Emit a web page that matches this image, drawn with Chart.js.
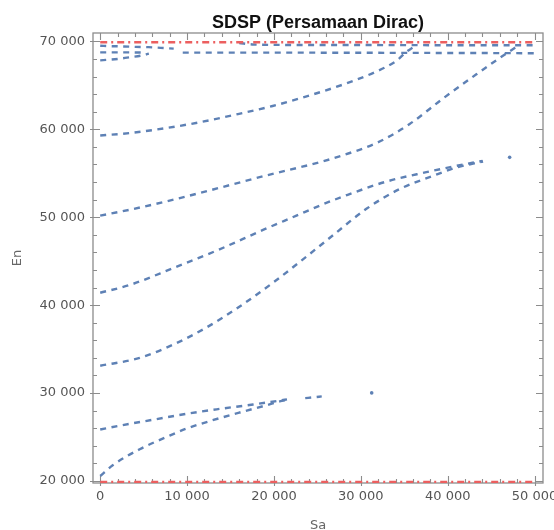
<!DOCTYPE html>
<html>
<head>
<meta charset="utf-8">
<title>SDSP (Persamaan Dirac)</title>
<script src="https://cdn.jsdelivr.net/npm/chart.js@4.4.1/dist/chart.umd.min.js"></script>
<style>
  html, body { margin: 0; padding: 0; background: #fff; overflow: hidden; }
  #wrap { position: absolute; left: 0; top: 0; }
</style>
</head>
<body>
<div id="wrap"><canvas id="levels" width="554" height="545"></canvas></div>
<script>
'use strict';

// plot range and labelled ticks
var xMin = -830, xMax = 50970;
var yMin = 19770, yMax = 70950;
var xTickValues = [0, 10000, 20000, 30000, 40000, 50000];
var yTickValues = [20000, 30000, 40000, 50000, 60000, 70000];

// energy levels En as a function of Sa
var level1Sa = [0, 1440, 4550, 7650, 9960, 12950, 16060, 19160, 20660, 21500];
var level1En = [20570, 21790, 23610, 25010, 25970, 26910, 27790, 28620, 29050, 29220];

var level2Sa = [0, 2000, 6000, 10000, 13400, 17600, 20700, 21500];
var level2En = [25850, 26250, 26950, 27650, 28150, 28700, 29150, 29280];

var level12TailSa = [23600, 24600, 25500];
var level12TailEn = [29420, 29520, 29620];

var level3Sa = [0, 4550, 8380, 12220, 16060, 19890, 23080, 26800, 30640, 34470, 38310, 41000, 44070];
var level3En = [33100, 34000, 35500, 37450, 39850, 42550, 45000, 47950, 50950, 53200, 54700, 55650, 56330];

var level4Sa = [0, 3400, 8350, 13560, 18740, 22590, 25270, 27950, 32940, 37540, 40610, 44020];
var level4En = [41410, 42290, 44190, 46270, 48550, 50180, 51320, 52350, 54050, 55120, 55760, 56410];

var level5Sa = [0, 3400, 7620, 11450, 15290, 19130, 25240, 27950, 31940, 35620, 39460, 43300, 45600, 47130, 48000];
var level5En = [50180, 50850, 51800, 52750, 53750, 54750, 56250, 57050, 58500, 60600, 63500, 66250, 67850, 68860, 69450];

var level6Sa = [0, 3400, 7620, 11450, 15270, 19850, 24110, 27910, 31820, 34120, 35270, 35970];
var level6En = [59290, 59570, 60140, 60800, 61600, 62650, 63850, 65070, 66580, 67800, 68830, 69280];

// bands just under the upper limit
var upperLeftSa = [0, 1320, 2700, 4090, 5580, 6960, 8460];
var upperLeftEn = [69500, 69450, 69420, 69370, 69340, 69260, 69170];
var upperRightSa = [16000, 17500, 20000, 30000, 40000, 50000];
var upperRightEn = [69820, 69650, 69600, 69580, 69560, 69550];

var middleLeftSa = [0, 2500, 5000];
var middleLeftEn = [68750, 68750, 68720];
var middleRightSa = [9500, 20000, 30000, 40000, 50000];
var middleRightEn = [68720, 68720, 68700, 68680, 68650];

var lowerSa = [0, 2000, 3300, 4700, 5600];
var lowerEn = [67840, 68000, 68180, 68370, 68600];

// isolated roots
var dotSa = [31250, 47130];
var dotEn = [30020, 56810];

// limits
var limitSa = [0, 50000];
var limitTopEn = [69900, 69900];
var limitBottomEn = [19900, 19900];

var blue = '#5E81B5';
var red = '#EC5F5F';

function pairs(xs, ys) {
    return xs.map(function (x, i) { return { x: x, y: ys[i] }; });
}

function dashed(xs, ys) {
    return {
        type: 'line',
        data: pairs(xs, ys),
        borderColor: blue,
        borderWidth: 2.4,
        borderDash: [6, 5.5],
        pointRadius: 0,
        cubicInterpolationMode: 'monotone',
        fill: false
    };
}

function limit(xs, ys) {
    return {
        type: 'line',
        data: pairs(xs, ys),
        borderColor: red,
        borderWidth: 2.4,
        borderDash: [7, 4, 2, 4],
        pointRadius: 0,
        fill: false
    };
}

function spaced(v) {
    return String(v).replace(/\B(?=(\d{3})+(?!\d))/g, ' ');
}

function fixedTicks(values) {
    return function (scale) {
        scale.ticks = values.map(function (v) { return { value: v }; });
    };
}

var datasets = [
    limit(limitSa, limitTopEn),
    limit(limitSa, limitBottomEn),
    dashed(level1Sa, level1En),
    dashed(level2Sa, level2En),
    dashed(level12TailSa, level12TailEn),
    dashed(level3Sa, level3En),
    dashed(level4Sa, level4En),
    dashed(level5Sa, level5En),
    dashed(level6Sa, level6En),
    dashed(upperLeftSa, upperLeftEn),
    dashed(upperRightSa, upperRightEn),
    dashed(middleLeftSa, middleLeftEn),
    dashed(middleRightSa, middleRightEn),
    dashed(lowerSa, lowerEn),
    {
        type: 'scatter',
        data: pairs(dotSa, dotEn),
        pointRadius: 1.8,
        pointBackgroundColor: blue,
        pointBorderWidth: 0
    }
];

// Mathematica style frame: inward ticks on all four sides, title over the plot
var frameTicks = {
    id: 'frameTicks',
    beforeDatasetsDraw: function (chart) {
        var ctx = chart.ctx, a = chart.chartArea;
        var xs = chart.scales.x, ys = chart.scales.y;
        var v, p, major, len;
        ctx.save();
        ctx.strokeStyle = '#8c8c8c';
        ctx.lineWidth = 1.3;
        ctx.strokeRect(a.left, a.top, a.right - a.left, a.bottom - a.top);
        ctx.lineWidth = 1.1;
        ctx.beginPath();
        for (v = Math.ceil(xMin / 2000) * 2000; v <= xMax; v += 2000) {
            p = Math.round(xs.getPixelForValue(v)) + 0.5;
            major = v % 10000 === 0;
            len = major ? 7 : 4;
            ctx.moveTo(p, a.bottom + (major ? 3 : 0));
            ctx.lineTo(p, a.bottom - len);
            ctx.moveTo(p, a.top);
            ctx.lineTo(p, a.top + len);
        }
        for (v = Math.ceil(yMin / 2000) * 2000; v <= yMax; v += 2000) {
            p = Math.round(ys.getPixelForValue(v)) + 0.5;
            major = v % 10000 === 0;
            len = major ? 7 : 4;
            ctx.moveTo(a.left - (major ? 3 : 0), p);
            ctx.lineTo(a.left + len, p);
            ctx.moveTo(a.right, p);
            ctx.lineTo(a.right - len, p);
        }
        ctx.stroke();
        ctx.restore();
    },
    afterDraw: function (chart) {
        var ctx = chart.ctx, a = chart.chartArea;
        ctx.save();
        ctx.fillStyle = '#111';
        ctx.font = 'bold 18px "Liberation Sans", Arial, sans-serif';
        ctx.textAlign = 'center';
        ctx.textBaseline = 'alphabetic';
        ctx.fillText('SDSP (Persamaan Dirac)', (a.left + a.right) / 2, 28);
        ctx.restore();
    }
};

var tickFont = { family: '"DejaVu Sans", sans-serif', size: 13 };

new Chart(document.getElementById('levels').getContext('2d'), {
    type: 'line',
    data: { datasets: datasets },
    plugins: [frameTicks],
    options: {
        responsive: false,
        animation: false,
        layout: { padding: { top: 33, right: 11, bottom: 12, left: 0 } },
        plugins: {
            legend: { display: false },
            tooltip: { enabled: false },
            title: { display: false }
        },
        scales: {
            x: {
                type: 'linear',
                position: 'bottom',
                min: xMin,
                max: xMax,
                grid: { display: false, drawTicks: false, tickLength: 0 },
                border: { display: false },
                ticks: {
                    padding: 6,
                    color: '#555',
                    font: tickFont,
                    maxRotation: 0,
                    autoSkip: false,
                    callback: function (v) { return spaced(v); }
                },
                afterBuildTicks: fixedTicks(xTickValues),
                afterFit: function (scale) {
                    scale.height = 50;
                    scale.paddingLeft = 0;
                    scale.paddingRight = 0;
                },
                title: {
                    display: true,
                    text: 'Sa',
                    color: '#666',
                    font: { family: '"DejaVu Sans", sans-serif', size: 13 },
                    padding: { top: 0, bottom: 0 }
                }
            },
            y: {
                type: 'linear',
                min: yMin,
                max: yMax,
                grid: { display: false, drawTicks: false, tickLength: 0 },
                border: { display: false },
                ticks: {
                    padding: 8,
                    color: '#555',
                    font: tickFont,
                    autoSkip: false,
                    callback: function (v) { return spaced(v); }
                },
                afterBuildTicks: fixedTicks(yTickValues),
                afterFit: function (scale) {
                    scale.width = 93;
                    scale.paddingTop = 0;
                    scale.paddingBottom = 0;
                },
                title: {
                    display: true,
                    text: 'En',
                    color: '#666',
                    font: { family: '"DejaVu Sans", sans-serif', size: 13 },
                    padding: { top: 10, bottom: 0 }
                }
            }
        }
    }
});
</script>
</body>
</html>
